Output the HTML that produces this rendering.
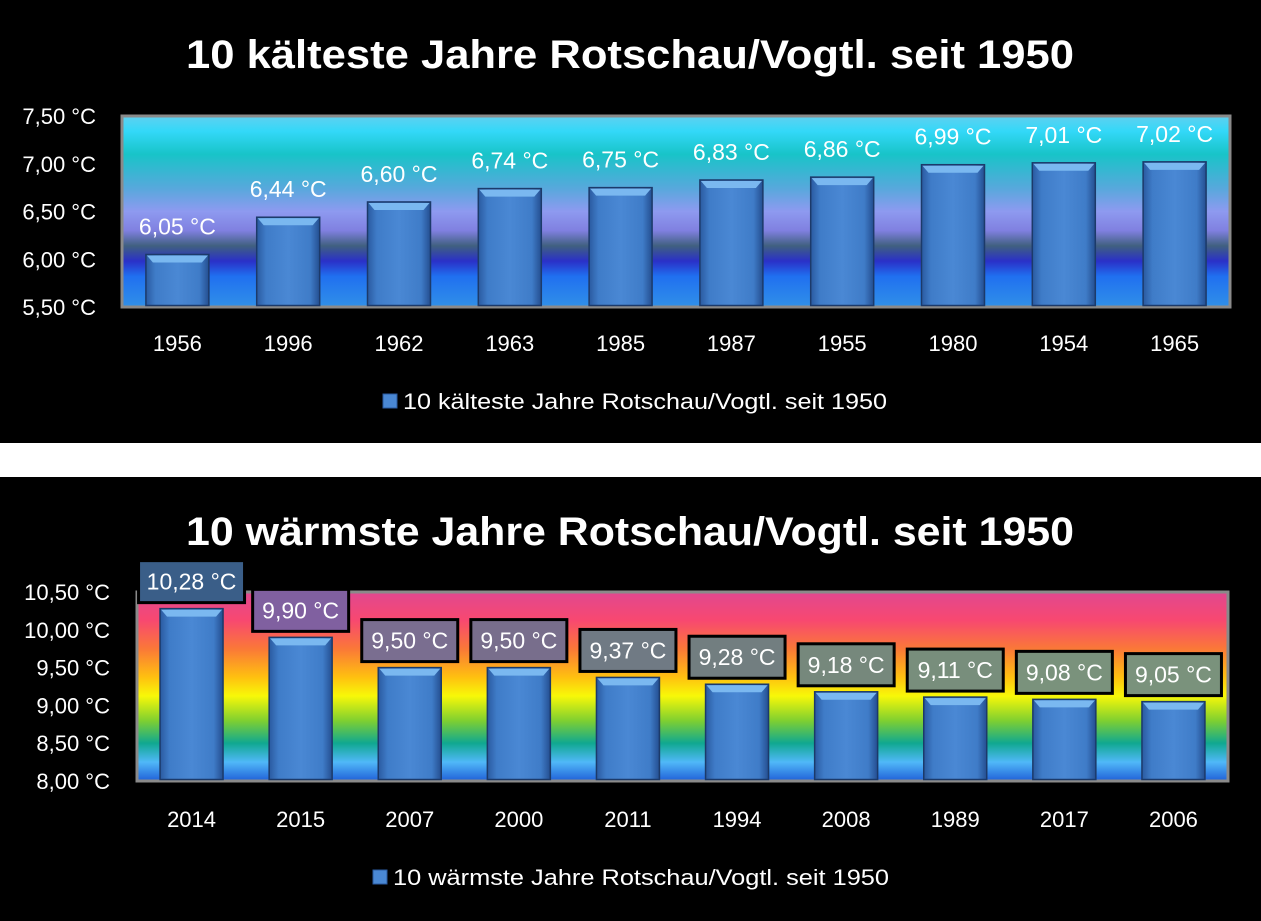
<!DOCTYPE html>
<html><head><meta charset="utf-8"><style>
html,body{margin:0;padding:0;background:#fff;}
svg{display:block;font-family:"Liberation Sans",sans-serif;}
</style></head><body>
<svg id="c" width="1261" height="921" viewBox="0 0 1261 921" xmlns="http://www.w3.org/2000/svg">
<defs>
<linearGradient id="bgTop" x1="0" y1="0" x2="0" y2="1">
<stop offset="0" stop-color="#5fd0f0"/><stop offset="0.08" stop-color="#33d8f8"/><stop offset="0.2" stop-color="#18c4c8"/><stop offset="0.38" stop-color="#58a8dc"/><stop offset="0.5" stop-color="#8e9af0"/><stop offset="0.6" stop-color="#8080e0"/><stop offset="0.68" stop-color="#406080"/><stop offset="0.76" stop-color="#2a30c8"/><stop offset="0.84" stop-color="#2070f0"/><stop offset="1" stop-color="#3090e8"/>
</linearGradient>
<linearGradient id="bgBot" x1="0" y1="0" x2="0" y2="1">
<stop offset="0" stop-color="#e04890"/><stop offset="0.15" stop-color="#f84870"/><stop offset="0.3" stop-color="#fa7838"/><stop offset="0.45" stop-color="#ffc010"/><stop offset="0.55" stop-color="#f8f808"/><stop offset="0.68" stop-color="#80d030"/><stop offset="0.8" stop-color="#10a890"/><stop offset="0.9" stop-color="#50b8f8"/><stop offset="1" stop-color="#2060d8"/>
</linearGradient>
<linearGradient id="barG" x1="0" y1="0" x2="1" y2="0">
<stop offset="0" stop-color="#2a5aa0"/><stop offset="0.15" stop-color="#3f7cc8"/><stop offset="0.5" stop-color="#4a88d4"/><stop offset="0.85" stop-color="#3f7cc8"/><stop offset="1" stop-color="#244e90"/>
</linearGradient>
</defs>
<rect x="0" y="0" width="1261" height="443" fill="#000"/>
<rect x="0" y="477" width="1261" height="444" fill="#000"/>
<g id="top"></g>
<g id="bot"></g>
</svg>
<script>
const topYears=["1956","1996","1962","1963","1985","1987","1955","1980","1954","1965"];
const topValues=[6.05,6.44,6.60,6.74,6.75,6.83,6.86,6.99,7.01,7.02];
const topTicks=[5.5,6.0,6.5,7.0,7.5];
const botYears=["2014","2015","2007","2000","2011","1994","2008","1989","2017","2006"];
const botValues=[10.28,9.90,9.50,9.50,9.37,9.28,9.18,9.11,9.08,9.05];
const botTicks=[8.0,8.5,9.0,9.5,10.0,10.5];
const boxColors=["#3a5e88","#8060a0","#7a6e90","#786e8c","#707a84","#727e80","#76887c","#788e7c","#7a927c","#7a927c"];

const NS="http://www.w3.org/2000/svg";
function mk(tag,attrs,parent,text){const e=document.createElementNS(NS,tag);for(const k in attrs)e.setAttribute(k,attrs[k]);if(text!==undefined)e.textContent=text;parent.appendChild(e);return e;}
function fmt(v){return v.toFixed(2).replace('.',',')+' °C';}

function drawChart(g,cfg){
  const {x0,x1,y0,y1,vmin,vmax,years,values,ticks,title,titleY,tickX,yearY,legendY,legendX,legendW,bg,boxes}=cfg;
  const yS=v=>y1-(v-vmin)/(vmax-vmin)*(y1-y0);
  const step=(x1-x0)/years.length;
  const xC=i=>x0+step*(i+0.5);
  const t=mk('text',{x:630,y:titleY,'text-anchor':'middle','font-size':40,'font-weight':'bold',fill:'#fff',textLength:888,lengthAdjust:'spacingAndGlyphs'},g,title);
  
  
  const pa=mk('rect',{x:x0,y:y0,width:x1-x0,height:y1-y0,fill:'url(#'+bg+')',stroke:'#8a8a8a','stroke-width':3},g);
  
  
  ticks.forEach(v=>{
    const e=mk('text',{x:tickX,y:yS(v)+8,'text-anchor':'end','font-size':22,fill:'#fff'},g,fmt(v));
    
    
  });
  values.forEach((v,i)=>{
    const cx=xC(i),w=63,top=yS(v);
    const b=mk('rect',{x:cx-w/2,y:top,width:w,height:y1-1.5-top,fill:'url(#barG)',stroke:'#1c3a6a','stroke-width':1.5},g);
    
    
    const hl=mk('polygon',{points:`${cx-w/2+1},${top+1} ${cx+w/2-1},${top+1} ${cx+w/2-7},${top+8} ${cx-w/2+7},${top+8}`,fill:'#7ab8f0'},g);
    
    
    if(boxes){
      const bw=v>=10?106:96,bh=42;
      const r=mk('rect',{x:cx-bw/2,y:top-6-bh,width:bw,height:bh,fill:boxColors[i],stroke:'#000','stroke-width':3},g);
      
      
      const tx=mk('text',{x:cx,y:top-6-bh/2+8,'text-anchor':'middle','font-size':23,fill:'#fff'},g,fmt(v));
      
      
    }else{
      const tx=mk('text',{x:cx,y:top-20,'text-anchor':'middle','font-size':23,fill:'#fff'},g,fmt(v));
      
      
    }
    const yl=mk('text',{x:cx,y:yearY,'text-anchor':'middle','font-size':22,fill:'#fff'},g,years[i]);
    
    
  });
  const lm=mk('rect',{x:legendX,y:legendY-15,width:14,height:14,fill:'#4a88d4',stroke:'#2a5aa0'},g);
  
  
  const lt=mk('text',{x:legendX+20,y:legendY,'font-size':22,fill:'#fff',textLength:legendW,lengthAdjust:'spacingAndGlyphs'},g,title);
  
  
}
drawChart(document.getElementById('top'),{x0:122,x1:1230,y0:116,y1:307,vmin:5.5,vmax:7.5,years:topYears,values:topValues,ticks:topTicks,
 title:"10 kälteste Jahre Rotschau/Vogtl. seit 1950",titleY:68,tickX:96,yearY:351,legendY:409,legendX:383,legendW:484,bg:'bgTop',boxes:false});
drawChart(document.getElementById('bot'),{x0:137,x1:1228,y0:592,y1:781,vmin:8,vmax:10.5,years:botYears,values:botValues,ticks:botTicks,
 title:"10 wärmste Jahre Rotschau/Vogtl. seit 1950",titleY:545,tickX:110,yearY:827,legendY:885,legendX:373,legendW:496,bg:'bgBot',boxes:true});
</script>
</body></html>
